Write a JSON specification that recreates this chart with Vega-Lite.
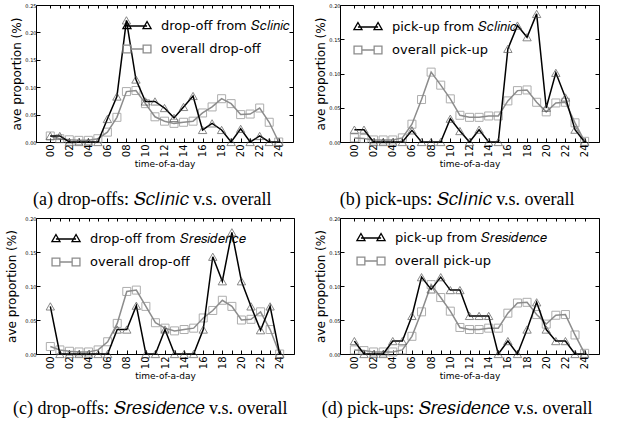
{
  "$schema": "https://vega.github.io/schema/vega-lite/v6.json",
  "padding": {"left": 5, "top": 2, "right": 5, "bottom": 0},
  "background": "white",
  "datasets": {
    "od": [{"h":0,"v":0.011},{"h":1,"v":0.006},{"h":2,"v":0.004},{"h":3,"v":0.003},{"h":4,"v":0.003},{"h":5,"v":0.006},{"h":6,"v":0.018},{"h":7,"v":0.045},{"h":8,"v":0.092},{"h":9,"v":0.094},{"h":10,"v":0.070},{"h":11,"v":0.046},{"h":12,"v":0.038},{"h":13,"v":0.034},{"h":14,"v":0.036},{"h":15,"v":0.038},{"h":16,"v":0.053},{"h":17,"v":0.064},{"h":18,"v":0.079},{"h":19,"v":0.070},{"h":20,"v":0.050},{"h":21,"v":0.051},{"h":22,"v":0.062},{"h":23,"v":0.036},{"h":24,"v":0.0}],
    "op": [{"h":0,"v":0.006},{"h":1,"v":0.005},{"h":2,"v":0.003},{"h":3,"v":0.003},{"h":4,"v":0.003},{"h":5,"v":0.006},{"h":6,"v":0.026},{"h":7,"v":0.062},{"h":8,"v":0.102},{"h":9,"v":0.083},{"h":10,"v":0.063},{"h":11,"v":0.039},{"h":12,"v":0.036},{"h":13,"v":0.036},{"h":14,"v":0.038},{"h":15,"v":0.038},{"h":16,"v":0.060},{"h":17,"v":0.075},{"h":18,"v":0.076},{"h":19,"v":0.058},{"h":20,"v":0.044},{"h":21,"v":0.057},{"h":22,"v":0.058},{"h":23,"v":0.028},{"h":24,"v":0.001}],
    "cd": [{"h":0,"v":0.011},{"h":1,"v":0.011},{"h":2,"v":0.0},{"h":3,"v":0.0},{"h":4,"v":0.0},{"h":5,"v":0.0},{"h":6,"v":0.042},{"h":7,"v":0.083},{"h":8,"v":0.222},{"h":9,"v":0.114},{"h":10,"v":0.074},{"h":11,"v":0.074},{"h":12,"v":0.062},{"h":13,"v":0.044},{"h":14,"v":0.064},{"h":15,"v":0.084},{"h":16,"v":0.022},{"h":17,"v":0.034},{"h":18,"v":0.022},{"h":19,"v":0.0},{"h":20,"v":0.024},{"h":21,"v":0.0},{"h":22,"v":0.011},{"h":23,"v":0.0},{"h":24,"v":0.0}],
    "cp": [{"h":0,"v":0.018},{"h":1,"v":0.018},{"h":2,"v":0.0},{"h":3,"v":0.0},{"h":4,"v":0.0},{"h":5,"v":0.0},{"h":6,"v":0.017},{"h":7,"v":0.0},{"h":8,"v":0.0},{"h":9,"v":0.0},{"h":10,"v":0.034},{"h":11,"v":0.016},{"h":12,"v":0.0},{"h":13,"v":0.018},{"h":14,"v":0.0},{"h":15,"v":0.0},{"h":16,"v":0.136},{"h":17,"v":0.170},{"h":18,"v":0.153},{"h":19,"v":0.187},{"h":20,"v":0.050},{"h":21,"v":0.101},{"h":22,"v":0.065},{"h":23,"v":0.018},{"h":24,"v":0.0}],
    "rd": [{"h":0,"v":0.070},{"h":1,"v":0.0},{"h":2,"v":0.0},{"h":3,"v":0.0},{"h":4,"v":0.0},{"h":5,"v":0.0},{"h":6,"v":0.0},{"h":7,"v":0.036},{"h":8,"v":0.036},{"h":9,"v":0.071},{"h":10,"v":0.0},{"h":11,"v":0.0},{"h":12,"v":0.036},{"h":13,"v":0.0},{"h":14,"v":0.0},{"h":15,"v":0.0},{"h":16,"v":0.036},{"h":17,"v":0.143},{"h":18,"v":0.107},{"h":19,"v":0.179},{"h":20,"v":0.107},{"h":21,"v":0.070},{"h":22,"v":0.035},{"h":23,"v":0.070},{"h":24,"v":0.0}],
    "rp": [{"h":0,"v":0.019},{"h":1,"v":0.0},{"h":2,"v":0.0},{"h":3,"v":0.0},{"h":4,"v":0.019},{"h":5,"v":0.019},{"h":6,"v":0.056},{"h":7,"v":0.113},{"h":8,"v":0.095},{"h":9,"v":0.113},{"h":10,"v":0.094},{"h":11,"v":0.094},{"h":12,"v":0.056},{"h":13,"v":0.056},{"h":14,"v":0.056},{"h":15,"v":0.0},{"h":16,"v":0.019},{"h":17,"v":0.0},{"h":18,"v":0.036},{"h":19,"v":0.076},{"h":20,"v":0.036},{"h":21,"v":0.019},{"h":22,"v":0.019},{"h":23,"v":0.0},{"h":24,"v":0.0}]
  },
  "vconcat": [
    {
      "spacing": 20,
      "resolve": {"scale": {"color": "independent"}},
      "hconcat": [
        {
          "width": 257, "height": 137,
          "title": {"text": "(a)  drop-offs: 𝑆𝑐𝑙𝑖𝑛𝑖𝑐 v.s. overall", "orient": "bottom", "anchor": "middle", "frame": "bounds", "offset": 22},
          "resolve": {"axis": {"x": "independent", "y": "independent"}},
          "layer": [
            {"data": {"name": "od"}, "mark": {"type": "line", "strokeWidth": 1.5},
             "encoding": {
               "x": {"field": "h", "type": "quantitative", "scale": {"domain": [-1.5, 25.5], "nice": false, "zero": false},
                     "axis": {"orient": "bottom", "values": [0,1,2,3,4,5,6,7,8,9,10,11,12,13,14,15,16,17,18,19,20,21,22,23,24], "labelExpr": "datum.value % 2 == 0 ? (datum.value < 10 ? '0' + datum.value : '' + datum.value) : ''", "labelAngle": 270, "labelFontSize": 10, "labelPadding": 6, "tickSize": -4, "labelOverlap": false, "labelFlush": false, "title": "time-of-a-day", "titleFontSize": 9, "titlePadding": 3}},
               "y": {"field": "v", "type": "quantitative", "scale": {"domain": [0, 0.25], "nice": false},
                     "axis": {"orient": "left", "values": [0,0.05,0.1,0.15,0.2,0.25], "format": ".2f", "labelFontSize": 5, "labelPadding": 4, "tickSize": -4, "title": "ave proportion (%)", "titleFontSize": 12, "titlePadding": 1}},
               "color": {"datum": "overall drop-off", "type": "nominal",
                         "scale": {"domain": ["drop-off from 𝑆𝑐𝑙𝑖𝑛𝑖𝑐", "overall drop-off"], "range": ["#000000", "#8c8c8c"]},
                         "legend": {"title": null, "orient": "none", "legendX": 85, "legendY": 5, "labelFontSize": 13, "labelColor": "black", "symbolSize": 900, "symbolStrokeWidth": 1.3, "symbolFillColor": "transparent", "rowPadding": -4, "labelOffset": 8, "padding": 0,
                                    "encode": {"symbols": {"update": {"shape": {"signal": "indexof(datum.value, 'overall') === 0 ? 'M-0.93,-0.26L-0.41,-0.26L-0.41,0.26L-0.93,0.26Z M0.41,-0.26L0.93,-0.26L0.93,0.26L0.41,0.26Z M-0.41,0L0.41,0' : 'M-0.67,-0.3L-0.4,0.18L-0.94,0.18Z M0.67,-0.3L0.94,0.18L0.4,0.18Z M-0.67,0L0.67,0'"}, "size": {"value": 900}}}}}}
             }},
            {"data": {"name": "od"}, "mark": {"type": "point", "shape": "square", "filled": false, "size": 64, "strokeWidth": 1, "color": "#8c8c8c"},
             "encoding": {"x": {"field": "h", "type": "quantitative", "axis": null}, "y": {"field": "v", "type": "quantitative", "axis": null}}},
            {"data": {"name": "cd"}, "mark": {"type": "line", "strokeWidth": 1.5},
             "encoding": {"x": {"field": "h", "type": "quantitative", "axis": null}, "y": {"field": "v", "type": "quantitative", "axis": null},
                          "color": {"datum": "drop-off from 𝑆𝑐𝑙𝑖𝑛𝑖𝑐", "type": "nominal"}}},
            {"data": {"name": "cd"}, "mark": {"type": "point", "shape": "triangle-up", "filled": false, "size": 70, "strokeWidth": 0.9, "color": "#444444"},
             "encoding": {"x": {"field": "h", "type": "quantitative", "axis": null}, "y": {"field": "v", "type": "quantitative", "axis": null}}},
            {"data": {"name": "od"}, "mark": {"type": "point", "opacity": 0},
             "encoding": {"x": {"field": "h", "type": "quantitative", "axis": {"orient": "top", "values": [0,1,2,3,4,5,6,7,8,9,10,11,12,13,14,15,16,17,18,19,20,21,22,23,24], "labels": false, "tickSize": -3, "title": null}},
                          "y": {"field": "v", "type": "quantitative", "axis": {"orient": "right", "values": [0,0.05,0.1,0.15,0.2,0.25], "labels": false, "tickSize": -4, "title": null}}}}
          ]
        },
        {
          "width": 259, "height": 137,
          "title": {"text": "(b)  pick-ups: 𝑆𝑐𝑙𝑖𝑛𝑖𝑐 v.s. overall", "orient": "bottom", "anchor": "middle", "frame": "bounds", "offset": 22},
          "resolve": {"axis": {"x": "independent", "y": "independent"}},
          "layer": [
            {"data": {"name": "op"}, "mark": {"type": "line", "strokeWidth": 1.5},
             "encoding": {
               "x": {"field": "h", "type": "quantitative", "scale": {"domain": [-1.5, 25.5], "nice": false, "zero": false},
                     "axis": {"orient": "bottom", "values": [0,1,2,3,4,5,6,7,8,9,10,11,12,13,14,15,16,17,18,19,20,21,22,23,24], "labelExpr": "datum.value % 2 == 0 ? (datum.value < 10 ? '0' + datum.value : '' + datum.value) : ''", "labelAngle": 270, "labelFontSize": 10, "labelPadding": 6, "tickSize": -4, "labelOverlap": false, "labelFlush": false, "title": "time-of-a-day", "titleFontSize": 9, "titlePadding": 3}},
               "y": {"field": "v", "type": "quantitative", "scale": {"domain": [0, 0.2], "nice": false},
                     "axis": {"orient": "left", "values": [0,0.05,0.1,0.15,0.2], "format": ".2f", "labelFontSize": 5, "labelPadding": 4, "tickSize": -4, "title": "ave proportion (%)", "titleFontSize": 12, "titlePadding": 1}},
               "color": {"datum": "overall pick-up", "type": "nominal",
                         "scale": {"domain": ["pick-up from 𝑆𝑐𝑙𝑖𝑛𝑖𝑐", "overall pick-up"], "range": ["#000000", "#8c8c8c"]},
                         "legend": {"title": null, "orient": "none", "legendX": 12, "legendY": 6, "labelFontSize": 13, "labelColor": "black", "symbolSize": 900, "symbolStrokeWidth": 1.3, "symbolFillColor": "transparent", "rowPadding": -4, "labelOffset": 8, "padding": 0,
                                    "encode": {"symbols": {"update": {"shape": {"signal": "indexof(datum.value, 'overall') === 0 ? 'M-0.93,-0.26L-0.41,-0.26L-0.41,0.26L-0.93,0.26Z M0.41,-0.26L0.93,-0.26L0.93,0.26L0.41,0.26Z M-0.41,0L0.41,0' : 'M-0.67,-0.3L-0.4,0.18L-0.94,0.18Z M0.67,-0.3L0.94,0.18L0.4,0.18Z M-0.67,0L0.67,0'"}, "size": {"value": 900}}}}}}
             }},
            {"data": {"name": "op"}, "mark": {"type": "point", "shape": "square", "filled": false, "size": 64, "strokeWidth": 1, "color": "#8c8c8c"},
             "encoding": {"x": {"field": "h", "type": "quantitative", "axis": null}, "y": {"field": "v", "type": "quantitative", "axis": null}}},
            {"data": {"name": "cp"}, "mark": {"type": "line", "strokeWidth": 1.5},
             "encoding": {"x": {"field": "h", "type": "quantitative", "axis": null}, "y": {"field": "v", "type": "quantitative", "axis": null},
                          "color": {"datum": "pick-up from 𝑆𝑐𝑙𝑖𝑛𝑖𝑐", "type": "nominal"}}},
            {"data": {"name": "cp"}, "mark": {"type": "point", "shape": "triangle-up", "filled": false, "size": 70, "strokeWidth": 0.9, "color": "#444444"},
             "encoding": {"x": {"field": "h", "type": "quantitative", "axis": null}, "y": {"field": "v", "type": "quantitative", "axis": null}}},
            {"data": {"name": "op"}, "mark": {"type": "point", "opacity": 0},
             "encoding": {"x": {"field": "h", "type": "quantitative", "axis": {"orient": "top", "values": [0,1,2,3,4,5,6,7,8,9,10,11,12,13,14,15,16,17,18,19,20,21,22,23,24], "labels": false, "tickSize": -3, "title": null}},
                          "y": {"field": "v", "type": "quantitative", "axis": {"orient": "right", "values": [0,0.05,0.1,0.15,0.2], "labels": false, "tickSize": -4, "title": null}}}}
          ]
        }
      ]
    },
    {
      "spacing": 19,
      "resolve": {"scale": {"color": "independent"}},
      "hconcat": [
        {
          "width": 258, "height": 136,
          "title": {"text": "(c)  drop-offs: 𝑆𝑟𝑒𝑠𝑖𝑑𝑒𝑛𝑐𝑒 v.s. overall", "orient": "bottom", "anchor": "middle", "frame": "bounds", "offset": 19},
          "resolve": {"axis": {"x": "independent", "y": "independent"}},
          "layer": [
            {"data": {"name": "od"}, "mark": {"type": "line", "strokeWidth": 1.5},
             "encoding": {
               "x": {"field": "h", "type": "quantitative", "scale": {"domain": [-1.5, 25.5], "nice": false, "zero": false},
                     "axis": {"orient": "bottom", "values": [0,1,2,3,4,5,6,7,8,9,10,11,12,13,14,15,16,17,18,19,20,21,22,23,24], "labelExpr": "datum.value % 2 == 0 ? (datum.value < 10 ? '0' + datum.value : '' + datum.value) : ''", "labelAngle": 270, "labelFontSize": 10, "labelPadding": 6, "tickSize": -4, "labelOverlap": false, "labelFlush": false, "title": "time-of-a-day", "titleFontSize": 9, "titlePadding": 3}},
               "y": {"field": "v", "type": "quantitative", "scale": {"domain": [0, 0.2], "nice": false},
                     "axis": {"orient": "left", "values": [0,0.05,0.1,0.15,0.2], "format": ".2f", "labelFontSize": 5, "labelPadding": 4, "tickSize": -4, "title": "ave proportion (%)", "titleFontSize": 12, "titlePadding": 6}},
               "color": {"datum": "overall drop-off", "type": "nominal",
                         "scale": {"domain": ["drop-off from 𝑆𝑟𝑒𝑠𝑖𝑑𝑒𝑛𝑐𝑒", "overall drop-off"], "range": ["#000000", "#8c8c8c"]},
                         "legend": {"title": null, "orient": "none", "legendX": 14, "legendY": 5, "labelFontSize": 13, "labelColor": "black", "symbolSize": 900, "symbolStrokeWidth": 1.3, "symbolFillColor": "transparent", "rowPadding": -4, "labelOffset": 8, "padding": 0,
                                    "encode": {"symbols": {"update": {"shape": {"signal": "indexof(datum.value, 'overall') === 0 ? 'M-0.93,-0.26L-0.41,-0.26L-0.41,0.26L-0.93,0.26Z M0.41,-0.26L0.93,-0.26L0.93,0.26L0.41,0.26Z M-0.41,0L0.41,0' : 'M-0.67,-0.3L-0.4,0.18L-0.94,0.18Z M0.67,-0.3L0.94,0.18L0.4,0.18Z M-0.67,0L0.67,0'"}, "size": {"value": 900}}}}}}
             }},
            {"data": {"name": "od"}, "mark": {"type": "point", "shape": "square", "filled": false, "size": 64, "strokeWidth": 1, "color": "#8c8c8c"},
             "encoding": {"x": {"field": "h", "type": "quantitative", "axis": null}, "y": {"field": "v", "type": "quantitative", "axis": null}}},
            {"data": {"name": "rd"}, "mark": {"type": "line", "strokeWidth": 1.5},
             "encoding": {"x": {"field": "h", "type": "quantitative", "axis": null}, "y": {"field": "v", "type": "quantitative", "axis": null},
                          "color": {"datum": "drop-off from 𝑆𝑟𝑒𝑠𝑖𝑑𝑒𝑛𝑐𝑒", "type": "nominal"}}},
            {"data": {"name": "rd"}, "mark": {"type": "point", "shape": "triangle-up", "filled": false, "size": 70, "strokeWidth": 0.9, "color": "#444444"},
             "encoding": {"x": {"field": "h", "type": "quantitative", "axis": null}, "y": {"field": "v", "type": "quantitative", "axis": null}}},
            {"data": {"name": "od"}, "mark": {"type": "point", "opacity": 0},
             "encoding": {"x": {"field": "h", "type": "quantitative", "axis": {"orient": "top", "values": [0,1,2,3,4,5,6,7,8,9,10,11,12,13,14,15,16,17,18,19,20,21,22,23,24], "labels": false, "tickSize": -3, "title": null}},
                          "y": {"field": "v", "type": "quantitative", "axis": {"orient": "right", "values": [0,0.05,0.1,0.15,0.2], "labels": false, "tickSize": -4, "title": null}}}}
          ]
        },
        {
          "width": 259, "height": 136,
          "title": {"text": "(d)  pick-ups: 𝑆𝑟𝑒𝑠𝑖𝑑𝑒𝑛𝑐𝑒 v.s. overall", "orient": "bottom", "anchor": "middle", "frame": "bounds", "offset": 19},
          "resolve": {"axis": {"x": "independent", "y": "independent"}},
          "layer": [
            {"data": {"name": "op"}, "mark": {"type": "line", "strokeWidth": 1.5},
             "encoding": {
               "x": {"field": "h", "type": "quantitative", "scale": {"domain": [-1.5, 25.5], "nice": false, "zero": false},
                     "axis": {"orient": "bottom", "values": [0,1,2,3,4,5,6,7,8,9,10,11,12,13,14,15,16,17,18,19,20,21,22,23,24], "labelExpr": "datum.value % 2 == 0 ? (datum.value < 10 ? '0' + datum.value : '' + datum.value) : ''", "labelAngle": 270, "labelFontSize": 10, "labelPadding": 6, "tickSize": -4, "labelOverlap": false, "labelFlush": false, "title": "time-of-a-day", "titleFontSize": 9, "titlePadding": 3}},
               "y": {"field": "v", "type": "quantitative", "scale": {"domain": [0, 0.2], "nice": false},
                     "axis": {"orient": "left", "values": [0,0.05,0.1,0.15,0.2], "format": ".2f", "labelFontSize": 5, "labelPadding": 4, "tickSize": -4, "title": "ave proportion (%)", "titleFontSize": 12, "titlePadding": 1}},
               "color": {"datum": "overall pick-up", "type": "nominal",
                         "scale": {"domain": ["pick-up from 𝑆𝑟𝑒𝑠𝑖𝑑𝑒𝑛𝑐𝑒", "overall pick-up"], "range": ["#000000", "#8c8c8c"]},
                         "legend": {"title": null, "orient": "none", "legendX": 15, "legendY": 4, "labelFontSize": 13, "labelColor": "black", "symbolSize": 900, "symbolStrokeWidth": 1.3, "symbolFillColor": "transparent", "rowPadding": -4, "labelOffset": 8, "padding": 0,
                                    "encode": {"symbols": {"update": {"shape": {"signal": "indexof(datum.value, 'overall') === 0 ? 'M-0.93,-0.26L-0.41,-0.26L-0.41,0.26L-0.93,0.26Z M0.41,-0.26L0.93,-0.26L0.93,0.26L0.41,0.26Z M-0.41,0L0.41,0' : 'M-0.67,-0.3L-0.4,0.18L-0.94,0.18Z M0.67,-0.3L0.94,0.18L0.4,0.18Z M-0.67,0L0.67,0'"}, "size": {"value": 900}}}}}}
             }},
            {"data": {"name": "op"}, "mark": {"type": "point", "shape": "square", "filled": false, "size": 64, "strokeWidth": 1, "color": "#8c8c8c"},
             "encoding": {"x": {"field": "h", "type": "quantitative", "axis": null}, "y": {"field": "v", "type": "quantitative", "axis": null}}},
            {"data": {"name": "rp"}, "mark": {"type": "line", "strokeWidth": 1.5},
             "encoding": {"x": {"field": "h", "type": "quantitative", "axis": null}, "y": {"field": "v", "type": "quantitative", "axis": null},
                          "color": {"datum": "pick-up from 𝑆𝑟𝑒𝑠𝑖𝑑𝑒𝑛𝑐𝑒", "type": "nominal"}}},
            {"data": {"name": "rp"}, "mark": {"type": "point", "shape": "triangle-up", "filled": false, "size": 70, "strokeWidth": 0.9, "color": "#444444"},
             "encoding": {"x": {"field": "h", "type": "quantitative", "axis": null}, "y": {"field": "v", "type": "quantitative", "axis": null}}},
            {"data": {"name": "op"}, "mark": {"type": "point", "opacity": 0},
             "encoding": {"x": {"field": "h", "type": "quantitative", "axis": {"orient": "top", "values": [0,1,2,3,4,5,6,7,8,9,10,11,12,13,14,15,16,17,18,19,20,21,22,23,24], "labels": false, "tickSize": -3, "title": null}},
                          "y": {"field": "v", "type": "quantitative", "axis": {"orient": "right", "values": [0,0.05,0.1,0.15,0.2], "labels": false, "tickSize": -4, "title": null}}}}
          ]
        }
      ]
    }
  ],
  "spacing": 5,
  "resolve": {"scale": {"color": "independent"}},
  "config": {
    "view": {"stroke": "black", "strokeWidth": 1},
    "font": "DejaVu Sans",
    "axis": {"labelFont": "DejaVu Sans", "titleFont": "DejaVu Sans", "labelColor": "black", "titleColor": "black", "tickColor": "black", "grid": false, "domain": false, "titleFontWeight": "normal"},
    "legend": {"labelFont": "DejaVu Sans"},
    "title": {"font": "Liberation Serif", "fontSize": 18, "fontWeight": "normal", "color": "black"}
  }
}
